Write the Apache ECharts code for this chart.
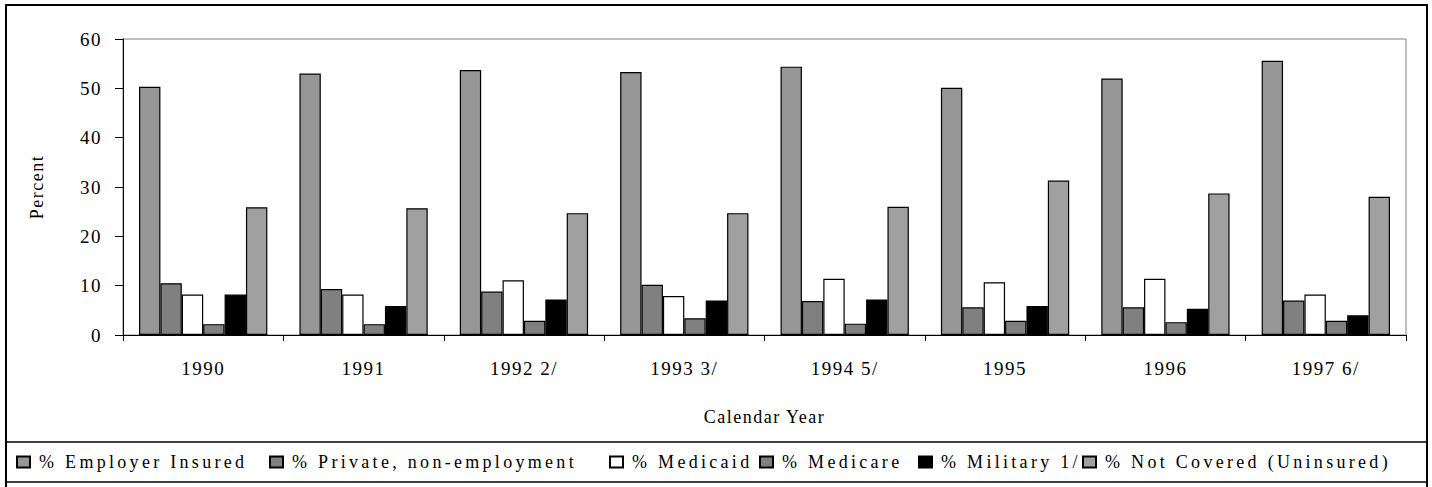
<!DOCTYPE html>
<html>
<head>
<meta charset="utf-8">
<script src="https://cdn.jsdelivr.net/npm/echarts@6/dist/echarts.min.js"></script>
<style>
html,body{margin:0;padding:0;background:#fff;}
#main{width:1432px;height:487px;}
#main text[style*="Times New Roman"]{letter-spacing:3.3px;}
#main text[style*="Times,"]{letter-spacing:1.5px;}
#main text[style*="Nimbus"]{letter-spacing:1.5px;}
</style>
</head>
<body>
<div id="main"></div>
<script>
var categories = ['1990', '1991', '1992 2/', '1993 3/', '1994 5/', '1995', '1996', '1997 6/'];
var employerInsured = [50.3, 53.0, 53.7, 53.3, 54.4, 50.1, 52.0, 55.6];
var privateNonEmployment = [10.5, 9.3, 8.8, 10.2, 6.9, 5.6, 5.6, 7.0];
var medicaid = [8.2, 8.2, 11.1, 7.9, 11.4, 10.7, 11.4, 8.2];
var medicare = [2.2, 2.2, 2.9, 3.4, 2.3, 2.9, 2.6, 2.9];
var military = [8.2, 5.9, 7.2, 7.0, 7.2, 5.9, 5.3, 4.0];
var notCovered = [25.9, 25.7, 24.7, 24.7, 26.0, 31.3, 28.7, 28.0];
var yTicks = [0, 10, 20, 30, 40, 50, 60];

var seriesNames = ['% Employer Insured', '% Private, non-employment', '% Medicaid', '% Medicare', '% Military 1/', '% Not Covered (Uninsured)'];
var seriesData = [employerInsured, privateNonEmployment, medicaid, medicare, military, notCovered];
var seriesColors = ['#969696', '#808080', '#ffffff', '#808080', '#000000', '#a0a0a0'];
var legendWidths = [230, 317, 127, 136, 141, 300];

var tickFont = '"Liberation Serif", "Nimbus Roman", serif';
var legendFont = '"Liberation Serif", "Times New Roman", serif';
var nameFont = '"Liberation Serif", Times, serif';

var rich = {};
legendWidths.forEach(function (w, i) {
  rich['w' + i] = { width: w, padding: [0, 0, 0, 4], fontFamily: legendFont, fontSize: 18, color: '#000', lineHeight: 20 };
});

var chart = echarts.init(document.getElementById('main'), null, { renderer: 'svg' });
chart.setOption({
  animation: false,
  backgroundColor: '#fff',
  textStyle: { fontFamily: tickFont, color: '#000' },
  grid: { left: 123, right: 26, top: 39, bottom: 152, show: true, borderColor: '#808080', borderWidth: 1, backgroundColor: 'transparent' },
  legend: {
    left: 16, top: 452, padding: 0, itemGap: 0, itemWidth: 13, itemHeight: 11,
    icon: 'rect',
    data: seriesNames,
    formatter: function (name) {
      var i = seriesNames.indexOf(name);
      return '{w' + i + '|' + name + '}';
    },
    textStyle: { fontFamily: legendFont, fontSize: 18, color: '#000', lineHeight: 20, rich: rich }
  },
  xAxis: {
    type: 'category',
    data: categories,
    name: 'Calendar Year',
    nameLocation: 'middle',
    nameGap: 73,
    nameTextStyle: { fontFamily: nameFont, fontSize: 18, color: '#000' },
    axisLine: { lineStyle: { color: '#000', width: 1 } },
    axisTick: { show: true, length: 6, lineStyle: { color: '#000' } },
    axisLabel: { margin: 24, fontFamily: tickFont, fontSize: 19, color: '#000' },
    splitLine: { show: false }
  },
  yAxis: {
    type: 'value',
    min: yTicks[0],
    max: yTicks[yTicks.length - 1],
    interval: 10,
    name: 'Percent',
    nameLocation: 'middle',
    nameGap: 77,
    nameRotate: 90,
    nameTextStyle: { fontFamily: nameFont, fontSize: 18, color: '#000' },
    axisLine: { show: true, lineStyle: { color: '#000', width: 1 } },
    axisTick: { show: true, length: 8, lineStyle: { color: '#000' } },
    axisLabel: { margin: 21, fontFamily: tickFont, fontSize: 19, color: '#000' },
    splitLine: { show: false }
  },
  series: seriesNames.map(function (name, i) {
    return {
      name: name,
      type: 'bar',
      data: seriesData[i],
      barGap: '0%',
      barCategoryGap: '20%',
      itemStyle: { color: seriesColors[i], borderColor: '#000', borderWidth: 1.2 }
    };
  }),
  graphic: [
    { type: 'rect', shape: { x: 6, y: 5, width: 1421, height: 500 }, style: { fill: 'none', stroke: '#000', lineWidth: 2 }, silent: true },
    { type: 'line', shape: { x1: 6, y1: 442, x2: 1427, y2: 442 }, style: { stroke: '#000', lineWidth: 1.5 }, silent: true },
    { type: 'line', shape: { x1: 6, y1: 482, x2: 1427, y2: 482 }, style: { stroke: '#000', lineWidth: 1.5 }, silent: true }
  ]
});
</script>
</body>
</html>
